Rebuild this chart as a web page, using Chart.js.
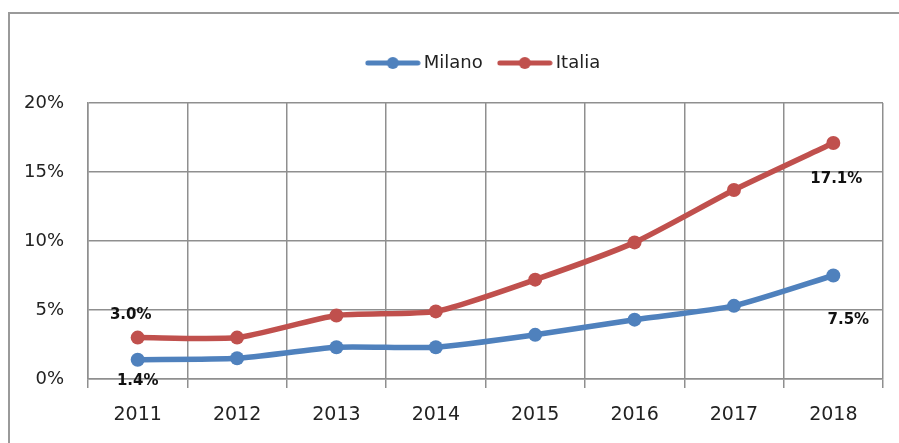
<!DOCTYPE html>
<html>
<head>
<meta charset="utf-8">
<script src="https://cdn.jsdelivr.net/npm/chart.js@4/dist/chart.umd.min.js"></script>
<style>
  html, body { margin: 0; padding: 0; background: #fff; overflow: hidden; }
  #wrap { position: relative; width: 899px; height: 443px; }
  #frame {
    position: absolute; left: 8px; top: 12px; width: 1000px; height: 600px;
    border-left: 2px solid #9a9a9a; border-top: 2px solid #9a9a9a;
    pointer-events: none;
  }
  canvas { position: absolute; left: 0; top: 0; }
</style>
</head>
<body>
<div id="wrap">
  <canvas id="chart" width="899" height="443"></canvas>
  <div id="frame"></div>
</div>
<script>
// --- dati ---
const years = ['2011', '2012', '2013', '2014', '2015', '2016', '2017', '2018'];
const milano = [1.4, 1.5, 2.3, 2.3, 3.2, 4.3, 5.3, 7.5];
const italia = [3.0, 3.0, 4.6, 4.9, 7.2, 9.9, 13.7, 17.1];
const yTicks = [0, 5, 10, 15, 20];

const BLUE = '#4f81bd';
const RED = '#c0504d';
const FONT = "'DejaVu Sans', Verdana, sans-serif";

// etichette dati solo su primo e ultimo punto (dataset, indice, spostamento)
const dataLabels = [
  { ds: 1, i: 0, dx: -7, dy: -22 },
  { ds: 0, i: 0, dx: 0, dy: 21 },
  { ds: 1, i: 7, dx: 3, dy: 36 },
  { ds: 0, i: 7, dx: 15, dy: 45 }
];

// simbolo legenda: linea con pallino
function legendSymbol(color) {
  const c = document.createElement('canvas');
  c.width = 56; c.height = 16;
  const g = c.getContext('2d');
  g.strokeStyle = color; g.lineWidth = 5; g.lineCap = 'round';
  g.beginPath(); g.moveTo(3, 8); g.lineTo(53, 8); g.stroke();
  g.fillStyle = color;
  g.beginPath(); g.arc(28, 8, 6, 0, Math.PI * 2); g.fill();
  return c;
}
const symbols = [legendSymbol(BLUE), legendSymbol(RED)];

const labelPlugin = {
  id: 'pointLabels',
  afterInit(chart) {
    // spazio extra sotto la legenda, come nel grafico originale
    const legend = chart.legend;
    const fit = legend.fit;
    legend.fit = function () { fit.call(this); if (this.height) this.height += 21; };
  },
  afterDatasetsDraw(chart) {
    const ctx = chart.ctx;
    ctx.save();
    ctx.font = 'bold 15px ' + FONT;
    ctx.fillStyle = '#111';
    ctx.textAlign = 'center';
    ctx.textBaseline = 'middle';
    dataLabels.forEach(l => {
      const el = chart.getDatasetMeta(l.ds).data[l.i];
      const v = chart.data.datasets[l.ds].data[l.i];
      ctx.fillText(v.toFixed(1) + '%', el.x + l.dx, el.y + l.dy);
    });
    ctx.restore();
  }
};

new Chart(document.getElementById('chart'), {
  type: 'line',
  data: {
    labels: years,
    datasets: [
      { label: 'Milano', data: milano, borderColor: BLUE, backgroundColor: BLUE },
      { label: 'Italia', data: italia, borderColor: RED, backgroundColor: RED }
    ]
  },
  options: {
    responsive: false,
    animation: false,
    layout: { padding: { top: 34, right: 16, left: 0, bottom: 0 } },
    elements: {
      line: { borderWidth: 5.5, tension: 0.2, borderCapStyle: 'round' },
      point: { radius: 7, borderWidth: 0, hoverRadius: 7 }
    },
    plugins: {
      tooltip: { enabled: false },
      legend: {
        position: 'top',
        fullSize: false,
        labels: {
          usePointStyle: true,
          pointStyleWidth: 44,
          padding: 20,
          color: '#222',
          font: { family: FONT, size: 18 },
          generateLabels(chart) {
            const items = Chart.defaults.plugins.legend.labels.generateLabels(chart);
            items.forEach((it, k) => { it.pointStyle = symbols[k]; });
            return items;
          }
        }
      }
    },
    scales: {
      x: {
        offset: true,
        grid: { offset: true, color: '#8f8f8f', lineWidth: 1.5, tickLength: 9 },
        border: { color: '#8f8f8f', width: 1.5 },
        ticks: { color: '#222', padding: 16, font: { family: FONT, size: 19 } },
        afterFit(s) { s.height = 64; }
      },
      y: {
        min: 0,
        max: 20,
        afterBuildTicks(s) { s.ticks = yTicks.map(v => ({ value: v })); },
        grid: { color: '#8f8f8f', lineWidth: 1.5, drawTicks: false },
        border: { color: '#8f8f8f', width: 1.5 },
        ticks: {
          color: '#222', padding: 24, font: { family: FONT, size: 18 },
          callback: v => v + '%'
        },
        afterFit(s) { s.width = 88; }
      }
    }
  },
  plugins: [labelPlugin]
});
</script>
</body>
</html>
